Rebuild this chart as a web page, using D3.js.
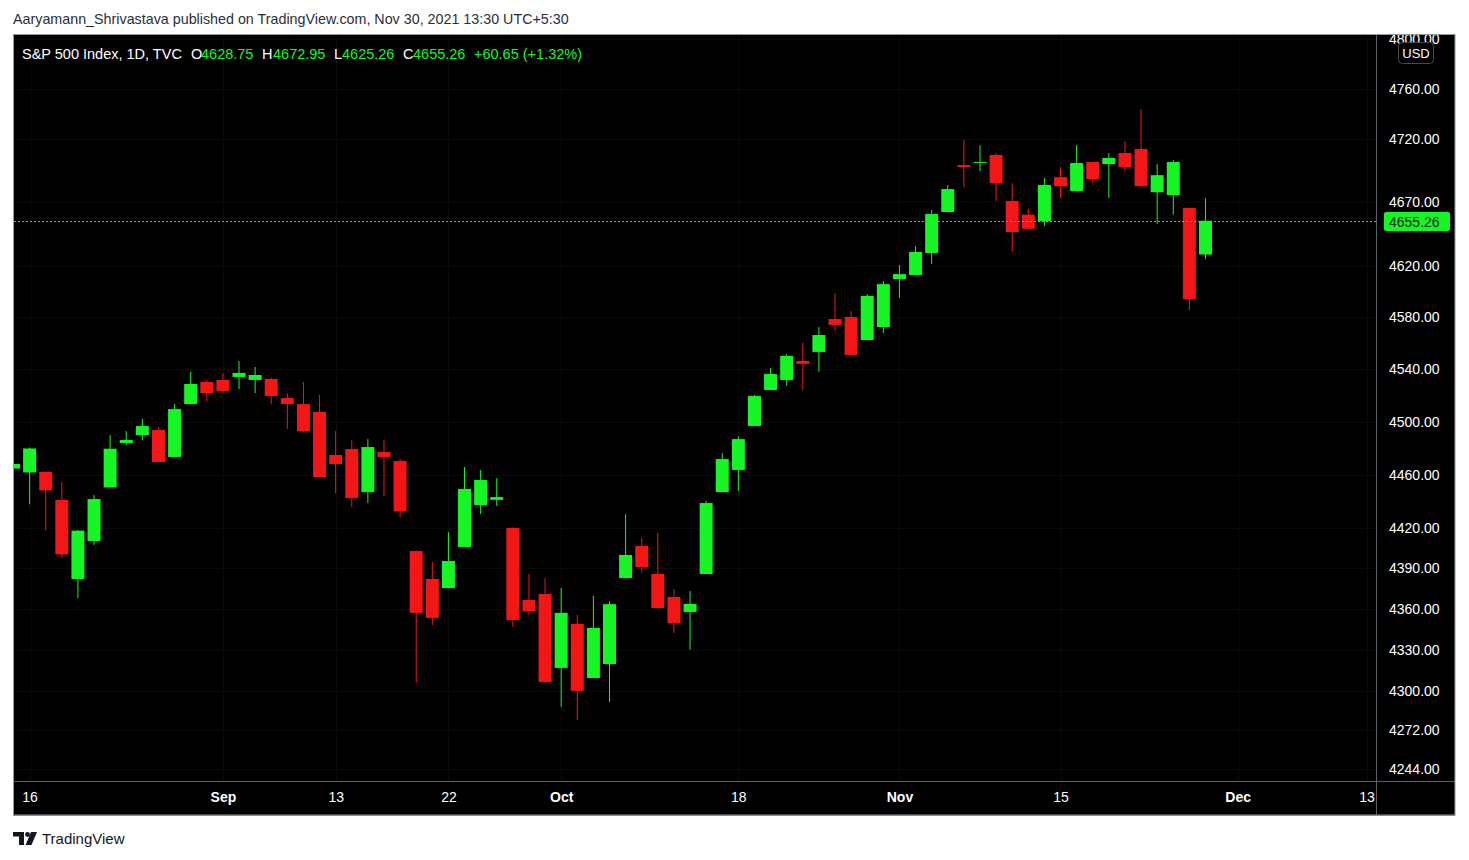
<!DOCTYPE html>
<html>
<head>
<meta charset="utf-8">
<script src="https://cdn.jsdelivr.net/npm/d3@7/dist/d3.min.js"></script>
<style>
body { margin: 0; background: #fff; }
text { font-family: "Liberation Sans", Arial, sans-serif; }
</style>
</head>
<body>
<svg id="chart" width="1469" height="860"></svg>
<script>
// daily sessions shown on the chart
var dates = ["2021-08-13","2021-08-16","2021-08-17","2021-08-18","2021-08-19","2021-08-20","2021-08-23","2021-08-24","2021-08-25","2021-08-26","2021-08-27","2021-08-30","2021-08-31",
  "2021-09-01","2021-09-02","2021-09-03","2021-09-07","2021-09-08","2021-09-09","2021-09-10","2021-09-13","2021-09-14","2021-09-15","2021-09-16","2021-09-17","2021-09-20","2021-09-21","2021-09-22","2021-09-23","2021-09-24","2021-09-27","2021-09-28","2021-09-29","2021-09-30",
  "2021-10-01","2021-10-04","2021-10-05","2021-10-06","2021-10-07","2021-10-08","2021-10-11","2021-10-12","2021-10-13","2021-10-14","2021-10-15","2021-10-18","2021-10-19","2021-10-20","2021-10-21","2021-10-22","2021-10-25","2021-10-26","2021-10-27","2021-10-28","2021-10-29",
  "2021-11-01","2021-11-02","2021-11-03","2021-11-04","2021-11-05","2021-11-08","2021-11-09","2021-11-10","2021-11-11","2021-11-12","2021-11-15","2021-11-16","2021-11-17","2021-11-18","2021-11-19","2021-11-22","2021-11-23","2021-11-24","2021-11-26","2021-11-29"];
var futureDates = ["2021-11-30","2021-12-01","2021-12-02","2021-12-03","2021-12-06","2021-12-07","2021-12-08","2021-12-09","2021-12-10","2021-12-13","2021-12-14"];

var opens = [4464.5,4461.6,4462.1,4440.9,4382.1,4410.3,4450.3,4483.8,4489.8,4493.7,4473.3,4513.4,4530.3,
  4531.8,4534.1,4531.8,4532.6,4518.0,4513.4,4507.4,4474.8,4479.3,4446.9,4477.0,4470.2,4402.8,4382.1,4375.4,4405.8,4437.1,4441.0,4420.0,4366.6,4371.0,
  4316.8,4349.0,4309.5,4319.6,4382.8,4406.6,4385.8,4368.8,4357.8,4385.8,4446.9,4463.5,4496.7,4524.1,4531.8,4546.4,4553.3,4578.7,4580.2,4562.5,4572.5,
  4609.6,4612.8,4630.0,4662.1,4699.2,4701.5,4707.2,4670.8,4660.0,4655.0,4689.6,4678.7,4701.6,4700.0,4708.8,4712.0,4677.7,4675.5,4665.3,4628.75];
var highs = [4468.5,4480.3,4462.1,4454.3,4418.5,4444.6,4489.9,4492.9,4502.1,4496.0,4513.4,4537.9,4531.8,
  4537.2,4546.4,4541.8,4533.5,4521.8,4530.3,4520.3,4492.9,4486.1,4486.8,4486.1,4471.7,4403.5,4394.7,4417.0,4465.7,4463.5,4457.5,4420.5,4385.8,4382.8,
  4375.5,4355.6,4369.6,4365.6,4430.4,4412.6,4416.3,4374.7,4373.2,4440.1,4476.2,4489.0,4520.3,4541.0,4551.8,4560.2,4572.5,4598.8,4584.9,4598.0,4608.1,
  4620.6,4635.4,4663.7,4683.4,4719.2,4714.9,4708.8,4684.9,4664.9,4688.9,4697.6,4715.1,4701.6,4708.8,4718.2,4743.9,4699.9,4703.2,4665.3,4672.95];
var lows = [4461.4,4437.7,4417.8,4397.6,4368.0,4407.3,4450.3,4482.3,4486.1,4469.5,4473.3,4513.4,4515.7,
  4521.8,4524.9,4521.8,4513.4,4494.5,4492.2,4457.5,4446.1,4435.6,4438.6,4443.9,4428.1,4305.9,4348.2,4375.4,4405.8,4430.4,4436.3,4346.8,4355.6,4305.9,
  4288.5,4279.1,4309.5,4292.0,4382.8,4386.5,4360.2,4342.3,4330.0,4385.8,4446.9,4447.6,4496.7,4524.1,4527.2,4524.1,4538.0,4569.4,4551.0,4562.5,4568.0,
  4595.0,4612.8,4621.4,4662.1,4681.6,4694.4,4670.8,4630.8,4648.9,4651.1,4673.2,4678.7,4684.9,4673.2,4694.4,4682.5,4652.7,4660.0,4585.6,4625.26];
var closes = [4468.0,4479.7,4448.1,4400.3,4418.0,4441.6,4479.5,4486.1,4496.7,4469.5,4509.6,4528.7,4521.8,
  4523.4,4537.2,4535.6,4519.5,4513.4,4492.9,4458.2,4468.0,4442.4,4480.8,4473.3,4432.6,4357.1,4353.4,4395.4,4449.2,4455.9,4443.1,4351.9,4358.5,4306.6,
  4357.1,4300.1,4346.0,4363.5,4399.9,4391.0,4360.7,4349.7,4363.7,4438.6,4471.7,4486.8,4519.5,4536.4,4550.2,4544.1,4566.3,4574.1,4551.0,4596.5,4605.7,
  4613.5,4630.8,4660.5,4680.2,4697.6,4701.7,4684.9,4646.4,4648.9,4683.4,4682.5,4700.8,4688.1,4704.8,4697.6,4682.5,4691.2,4701.6,4594.1,4655.26];

var priceTicks = [4800, 4760, 4720, 4670, 4620, 4580, 4540, 4500, 4460, 4420, 4390, 4360, 4330, 4300, 4272, 4244];
var timeTicks = ["2021-08-16","2021-09-01","2021-09-13","2021-09-22","2021-10-01","2021-10-18","2021-11-01","2021-11-15","2021-12-01","2021-12-13"];

var lastClose = 4655.26, change = 60.65, changePct = 1.32;

var green = "#17f527", red = "#f21616";

var svg = d3.select("#chart"),
    plotL = 13.5, plotR = 1376, plotT = 35, plotB = 781;

var allDates = dates.concat(futureDates);
var parse = d3.timeParse("%Y-%m-%d");

var x = d3.scalePoint()
    .domain(allDates)
    .range([plotL, plotL + 16.108 * (allDates.length - 1)]);

var y = d3.scaleLog()
    .domain([4235.2, 4803.5])
    .range([plotB, plotT]);

// header line above the chart
svg.append("text")
    .attr("x", 13).attr("y", 24)
    .attr("fill", "#2a2e39")
    .style("font-size", "14.3px")
    .text("Aaryamann_Shrivastava published on TradingView.com, Nov 30, 2021 13:30 UTC+5:30");

// black panel
svg.append("rect")
    .attr("x", 13).attr("y", 34.5).attr("width", 1442).attr("height", 781)
    .attr("fill", "#000");

var defs = svg.append("defs");
defs.append("clipPath").attr("id", "plotClip")
  .append("rect")
    .attr("x", plotL).attr("y", plotT).attr("width", plotR - plotL).attr("height", plotB - plotT);
defs.append("clipPath").attr("id", "axisClip")
  .append("rect")
    .attr("x", 0).attr("y", plotT).attr("width", 80).attr("height", plotB - plotT);

var plot = svg.append("g").attr("clip-path", "url(#plotClip)");

// grid (very faint)
plot.append("g").selectAll("line")
    .data(priceTicks)
  .enter().append("line")
    .attr("x1", plotL).attr("x2", plotR)
    .attr("y1", function(d) { return Math.round(y(d)) + 0.5; })
    .attr("y2", function(d) { return Math.round(y(d)) + 0.5; })
    .attr("stroke", "#0b0b0b");

plot.append("g").selectAll("line")
    .data(timeTicks)
  .enter().append("line")
    .attr("x1", function(d) { return Math.round(x(d)) + 0.5; })
    .attr("x2", function(d) { return Math.round(x(d)) + 0.5; })
    .attr("y1", plotT).attr("y2", plotB)
    .attr("stroke", "#0b0b0b");

// candles
var candles = dates.map(function(d, i) {
  return {date: d, o: opens[i], h: highs[i], l: lows[i], c: closes[i]};
});

var g = plot.append("g").selectAll("g")
    .data(candles)
  .enter().append("g")
    .attr("fill", function(d) { return d.c >= d.o ? green : red; });

g.append("rect")
    .attr("x", function(d) { return x(d.date) - 0.5; })
    .attr("width", 1)
    .attr("y", function(d) { return y(d.h); })
    .attr("height", function(d) { return y(d.l) - y(d.h); });

g.append("rect")
    .attr("x", function(d) { return x(d.date) - 6.5; })
    .attr("width", 13)
    .attr("y", function(d) { return y(Math.max(d.o, d.c)); })
    .attr("height", function(d) { return Math.max(1, Math.abs(y(d.o) - y(d.c))); });

// last price line
var ly = Math.round(y(lastClose)) + 0.5;
plot.append("line")
    .attr("x1", plotL).attr("x2", plotR)
    .attr("y1", ly).attr("y2", ly)
    .attr("stroke", green)
    .attr("stroke-width", 1.3)
    .attr("shape-rendering", "crispEdges")
    .attr("stroke-dasharray", "2,2");

// price axis
var yAxis = svg.append("g")
    .attr("transform", "translate(" + plotR + ",0)")
    .attr("clip-path", "url(#axisClip)")
    .call(d3.axisRight(y).tickValues(priceTicks).tickFormat(d3.format(".2f")).tickSize(0).tickPadding(13));
yAxis.select(".domain").remove();
yAxis.selectAll("text")
    .attr("fill", "#fff")
    .style("font-size", "14px")
    .style("font-family", "Liberation Sans, Arial, sans-serif");

// last price label
svg.append("rect")
    .attr("x", 1384).attr("y", ly - 9.5).attr("width", 66).attr("height", 19).attr("rx", 2)
    .attr("fill", green);
svg.append("text")
    .attr("x", 1389).attr("y", ly + 5)
    .attr("fill", "#0d2e0d")
    .style("font-size", "14px")
    .text(d3.format(".2f")(lastClose));

// currency box
svg.append("rect")
    .attr("x", 1398.5).attr("y", 42.5).attr("width", 35).attr("height", 21).attr("rx", 4)
    .attr("fill", "#000").attr("stroke", "#4a4a4a");
svg.append("text")
    .attr("x", 1416).attr("y", 57.5).attr("text-anchor", "middle")
    .attr("fill", "#fff").style("font-size", "13px")
    .text("USD");

// time axis
var monthFmt = d3.timeFormat("%b"), dayFmt = d3.timeFormat("%-d");
var xAxis = svg.append("g")
    .attr("transform", "translate(0," + plotB + ")")
    .call(d3.axisBottom(x).tickValues(timeTicks).tickSize(0).tickPadding(11)
      .tickFormat(function(d) { var t = parse(d); return t.getDate() == 1 ? monthFmt(t) : dayFmt(t); }));
xAxis.select(".domain").remove();
xAxis.selectAll("text")
    .attr("fill", "#fff")
    .style("font-size", "14px")
    .style("font-family", "Liberation Sans, Arial, sans-serif")
    .style("font-weight", function(d) { return parse(d).getDate() == 1 ? "bold" : "normal"; });

// frame lines
svg.append("line").attr("x1", plotR + 0.5).attr("x2", plotR + 0.5).attr("y1", 35).attr("y2", 815).attr("stroke", "#5d606b");
svg.append("line").attr("x1", 13).attr("x2", 1455).attr("y1", plotB + 0.5).attr("y2", plotB + 0.5).attr("stroke", "#5d606b");
svg.append("rect")
    .attr("x", 13.5).attr("y", 34.5).attr("width", 1441.5).attr("height", 780.5)
    .attr("fill", "none").attr("stroke", "#9598a1");

// legend line in the panel
var o = candles[candles.length - 1];
var fmt = d3.format(".2f");
var legend = [
  {t: "S&P 500 Index, 1D, TVC", x: 22, c: "#fff"},
  {t: "O", x: 191, c: "#fff"}, {t: fmt(o.o), x: 201, c: green},
  {t: "H", x: 262, c: "#fff"}, {t: fmt(o.h), x: 273, c: green},
  {t: "L", x: 334, c: "#fff"}, {t: fmt(o.l), x: 342, c: green},
  {t: "C", x: 403, c: "#fff"}, {t: fmt(o.c), x: 413, c: green},
  {t: "+" + fmt(change) + " (+" + fmt(changePct) + "%)", x: 474, c: green}
];
svg.append("g").selectAll("text")
    .data(legend)
  .enter().append("text")
    .attr("x", function(d) { return d.x; })
    .attr("y", 59)
    .attr("fill", function(d) { return d.c; })
    .style("font-size", "14.5px")
    .text(function(d) { return d.t; });

// footer logo
var logo = svg.append("g").attr("fill", "#131722");
logo.append("path").attr("d", "M13,832 H24 V845 H19 V836.5 H13 Z");
logo.append("circle").attr("cx", 27.5).attr("cy", 834.5).attr("r", 2.4);
logo.append("path").attr("d", "M31,832 H37 L31.5,845 H25.5 Z");
svg.append("text")
    .attr("x", 42).attr("y", 844)
    .attr("fill", "#131722")
    .style("font-size", "15px")
    .text("TradingView");
</script>
</body>
</html>
